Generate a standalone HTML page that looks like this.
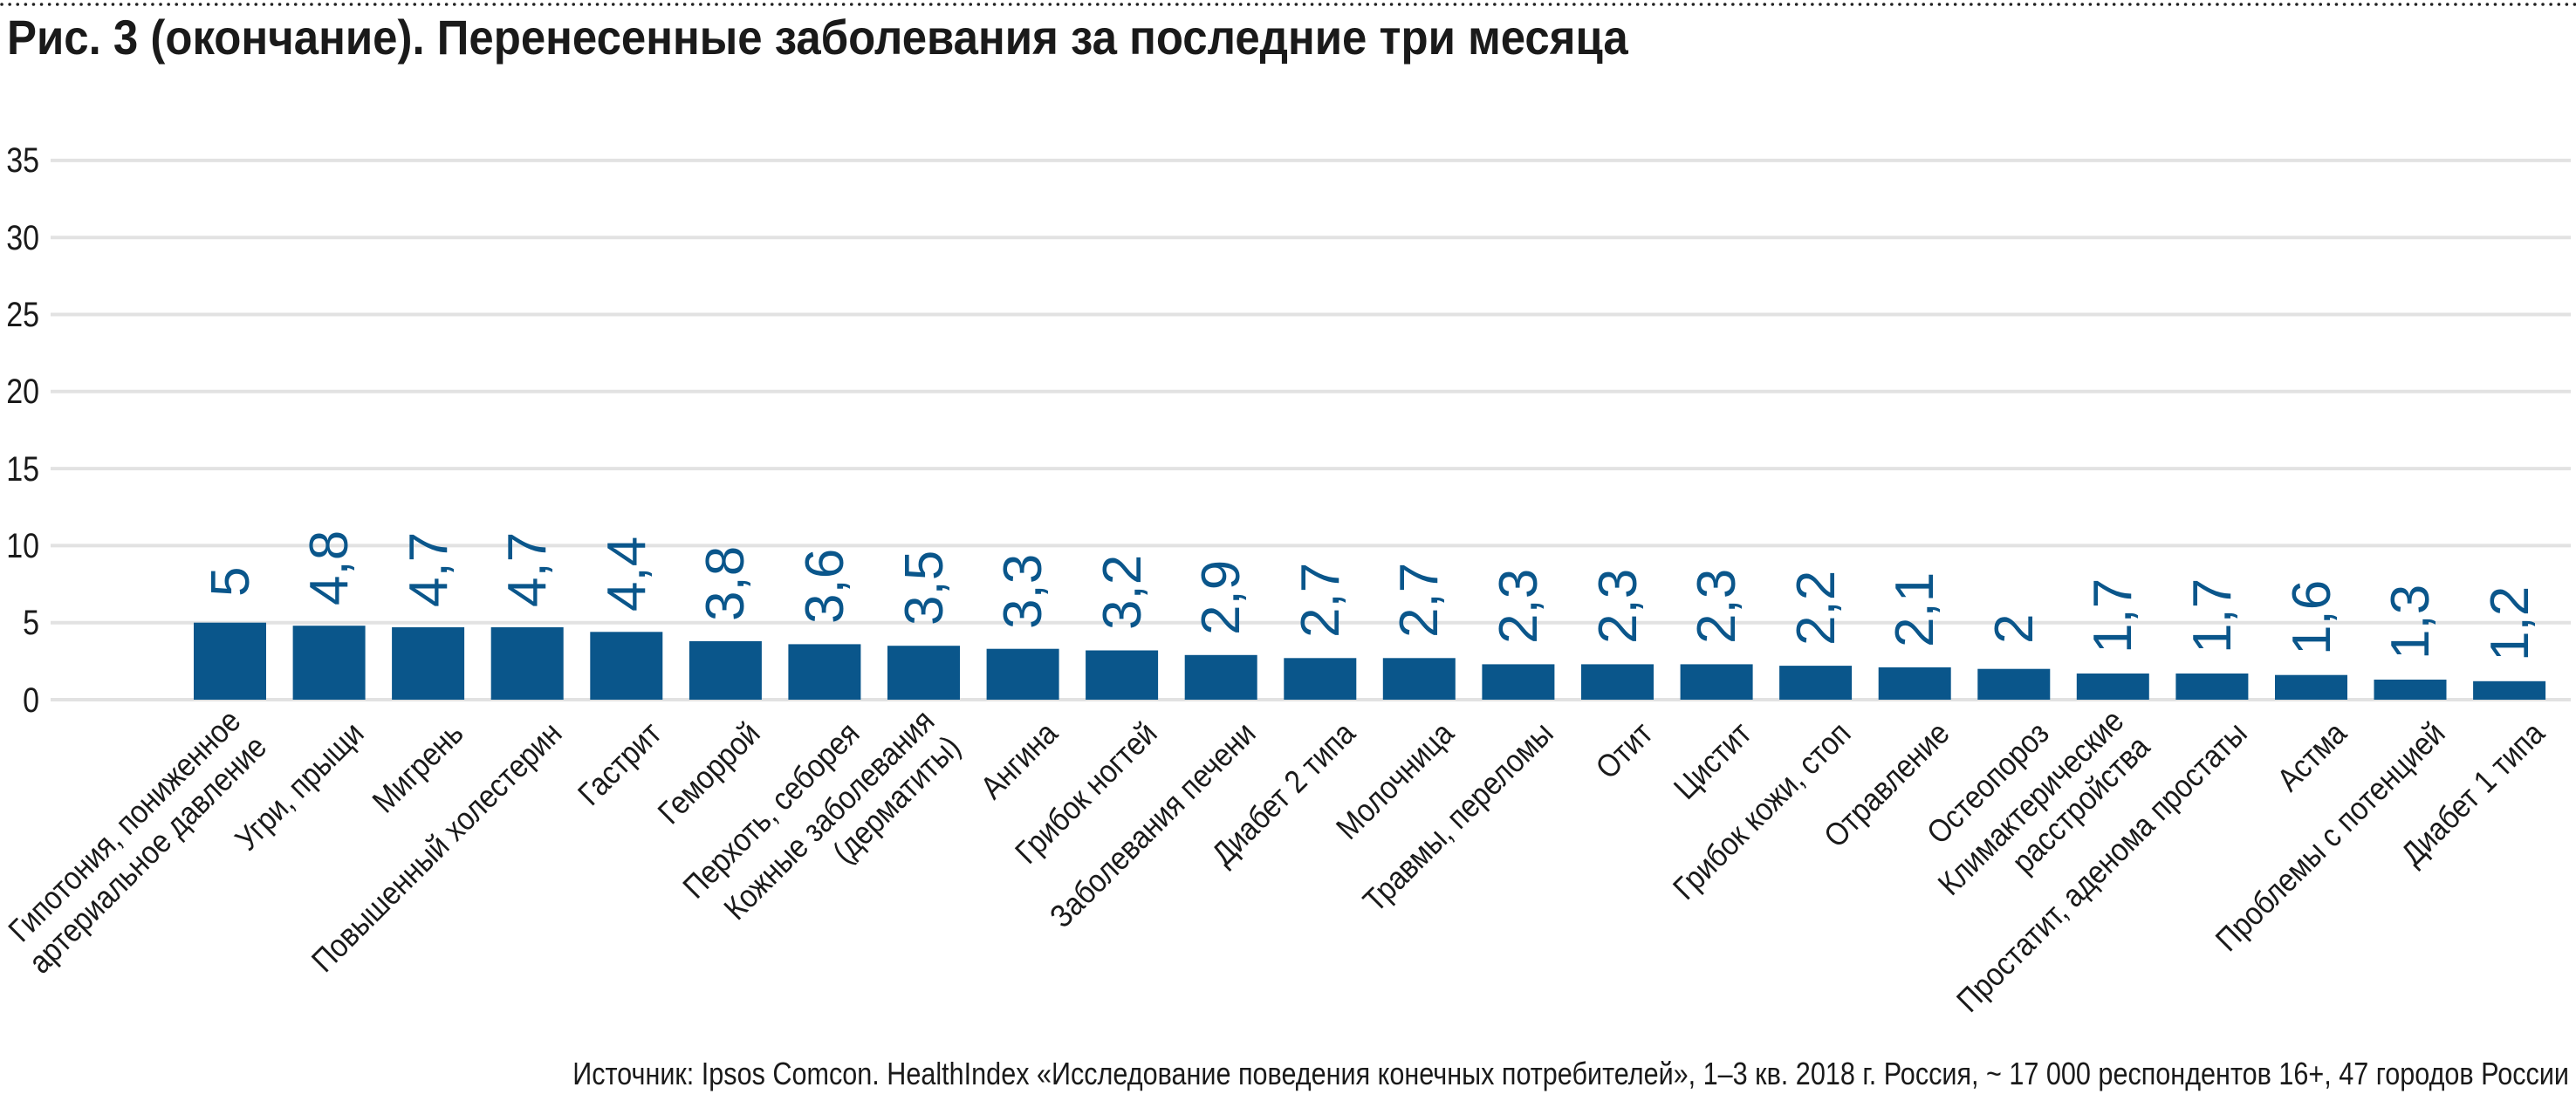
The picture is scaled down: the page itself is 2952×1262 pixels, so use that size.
<!DOCTYPE html>
<html><head><meta charset="utf-8"><style>
html,body{margin:0;padding:0;background:#fff;}
svg{display:block;}
text{font-family:"Liberation Sans",sans-serif;}
</style></head><body>
<svg width="2952" height="1262" viewBox="0 0 2952 1262" xmlns="http://www.w3.org/2000/svg">
<line x1="2" y1="5" x2="2952" y2="5" stroke="#222" stroke-width="3.5" stroke-linecap="round" stroke-dasharray="0.1 9"/>
<text transform="translate(8,62) scale(0.91,1)" font-size="56" font-weight="bold" fill="#1a1a1a">Рис. 3 (окончание). Перенесенные заболевания за последние три месяца</text>
<g stroke="#e2e2e2" stroke-width="4">
<line x1="58" y1="802" x2="2946" y2="802"/><line x1="58" y1="713.7" x2="2946" y2="713.7"/><line x1="58" y1="625.4" x2="2946" y2="625.4"/><line x1="58" y1="537.1" x2="2946" y2="537.1"/><line x1="58" y1="448.8" x2="2946" y2="448.8"/><line x1="58" y1="360.5" x2="2946" y2="360.5"/><line x1="58" y1="272.2" x2="2946" y2="272.2"/><line x1="58" y1="183.9" x2="2946" y2="183.9"/>
</g>
<g font-size="40" fill="#1a1a1a" text-anchor="end">
<text transform="translate(45,816) scale(0.85,1)">0</text>
<text transform="translate(45,727) scale(0.85,1)">5</text>
<text transform="translate(45,639) scale(0.85,1)">10</text>
<text transform="translate(45,551) scale(0.85,1)">15</text>
<text transform="translate(45,462) scale(0.85,1)">20</text>
<text transform="translate(45,374) scale(0.85,1)">25</text>
<text transform="translate(45,286) scale(0.85,1)">30</text>
<text transform="translate(45,197) scale(0.85,1)">35</text>
</g>
<g fill="#0a568b">
<rect x="222" y="713.7" width="83" height="88.3"/>
<rect x="335.6" y="717.2" width="83" height="84.8"/>
<rect x="449.1" y="719" width="83" height="83"/>
<rect x="562.7" y="719" width="83" height="83"/>
<rect x="676.3" y="724.3" width="83" height="77.7"/>
<rect x="789.9" y="734.9" width="83" height="67.1"/>
<rect x="903.4" y="738.4" width="83" height="63.6"/>
<rect x="1017" y="740.2" width="83" height="61.8"/>
<rect x="1130.6" y="743.7" width="83" height="58.3"/>
<rect x="1244.1" y="745.5" width="83" height="56.5"/>
<rect x="1357.7" y="750.8" width="83" height="51.2"/>
<rect x="1471.3" y="754.3" width="83" height="47.7"/>
<rect x="1584.8" y="754.3" width="83" height="47.7"/>
<rect x="1698.4" y="761.4" width="83" height="40.6"/>
<rect x="1812" y="761.4" width="83" height="40.6"/>
<rect x="1925.6" y="761.4" width="83" height="40.6"/>
<rect x="2039.1" y="763.1" width="83" height="38.9"/>
<rect x="2152.7" y="764.9" width="83" height="37.1"/>
<rect x="2266.3" y="766.7" width="83" height="35.3"/>
<rect x="2379.8" y="772" width="83" height="30"/>
<rect x="2493.4" y="772" width="83" height="30"/>
<rect x="2607" y="773.7" width="83" height="28.3"/>
<rect x="2720.5" y="779" width="83" height="23"/>
<rect x="2834.1" y="780.8" width="83" height="21.2"/>
</g>
<g font-size="62" fill="#0a568b">
<text transform="translate(285,684) rotate(-90)">5</text>
<text transform="translate(398,694) rotate(-90)">4,8</text>
<text transform="translate(512,696) rotate(-90)">4,7</text>
<text transform="translate(625,696) rotate(-90)">4,7</text>
<text transform="translate(739,701) rotate(-90)">4,4</text>
<text transform="translate(852,712) rotate(-90)">3,8</text>
<text transform="translate(966,715) rotate(-90)">3,6</text>
<text transform="translate(1080,717) rotate(-90)">3,5</text>
<text transform="translate(1193,721) rotate(-90)">3,3</text>
<text transform="translate(1307,722) rotate(-90)">3,2</text>
<text transform="translate(1420,728) rotate(-90)">2,9</text>
<text transform="translate(1534,731) rotate(-90)">2,7</text>
<text transform="translate(1647,731) rotate(-90)">2,7</text>
<text transform="translate(1761,738) rotate(-90)">2,3</text>
<text transform="translate(1875,738) rotate(-90)">2,3</text>
<text transform="translate(1988,738) rotate(-90)">2,3</text>
<text transform="translate(2102,740) rotate(-90)">2,2</text>
<text transform="translate(2215,742) rotate(-90)">2,1</text>
<text transform="translate(2329,738) rotate(-90)">2</text>
<text transform="translate(2442,749) rotate(-90)">1,7</text>
<text transform="translate(2556,749) rotate(-90)">1,7</text>
<text transform="translate(2670,751) rotate(-90)">1,6</text>
<text transform="translate(2783,756) rotate(-90)">1,3</text>
<text transform="translate(2897,758) rotate(-90)">1,2</text>
</g>
<g font-size="37" fill="#1a1a1a" text-anchor="end">
<text transform="translate(292,843) rotate(-45) scale(0.88,1)"><tspan x="0" y="-20">Гипотония, пониженное</tspan><tspan x="0" y="22">артериальное давление</tspan></text>
<text transform="translate(419,843) rotate(-45) scale(0.88,1)">Угри, прыщи</text>
<text transform="translate(533,843) rotate(-45) scale(0.88,1)">Мигрень</text>
<text transform="translate(646,843) rotate(-45) scale(0.88,1)">Повышенный холестерин</text>
<text transform="translate(760,843) rotate(-45) scale(0.88,1)">Гастрит</text>
<text transform="translate(873,843) rotate(-45) scale(0.88,1)">Геморрой</text>
<text transform="translate(987,843) rotate(-45) scale(0.88,1)">Перхоть, себорея</text>
<text transform="translate(1087,843) rotate(-45) scale(0.88,1)"><tspan x="0" y="-20">Кожные заболевания</tspan><tspan x="0" y="22">(дерматиты)</tspan></text>
<text transform="translate(1214,843) rotate(-45) scale(0.88,1)">Ангина</text>
<text transform="translate(1328,843) rotate(-45) scale(0.88,1)">Грибок ногтей</text>
<text transform="translate(1441,843) rotate(-45) scale(0.88,1)">Заболевания печени</text>
<text transform="translate(1555,843) rotate(-45) scale(0.88,1)">Диабет 2 типа</text>
<text transform="translate(1668,843) rotate(-45) scale(0.88,1)">Молочница</text>
<text transform="translate(1782,843) rotate(-45) scale(0.88,1)">Травмы, переломы</text>
<text transform="translate(1896,843) rotate(-45) scale(0.88,1)">Отит</text>
<text transform="translate(2009,843) rotate(-45) scale(0.88,1)">Цистит</text>
<text transform="translate(2123,843) rotate(-45) scale(0.88,1)">Грибок кожи, стоп</text>
<text transform="translate(2236,843) rotate(-45) scale(0.88,1)">Отравление</text>
<text transform="translate(2350,843) rotate(-45) scale(0.88,1)">Остеопороз</text>
<text transform="translate(2450,843) rotate(-45) scale(0.88,1)"><tspan x="0" y="-20">Климактерические</tspan><tspan x="0" y="22">расстройства</tspan></text>
<text transform="translate(2577,843) rotate(-45) scale(0.88,1)">Простатит, аденома простаты</text>
<text transform="translate(2691,843) rotate(-45) scale(0.88,1)">Астма</text>
<text transform="translate(2804,843) rotate(-45) scale(0.88,1)">Проблемы с потенцией</text>
<text transform="translate(2918,843) rotate(-45) scale(0.88,1)">Диабет 1 типа</text>
</g>
<text transform="translate(2944,1243) scale(0.85,1)" font-size="36" fill="#1a1a1a" text-anchor="end">Источник: Ipsos Comcon. HealthIndex «Исследование поведения конечных потребителей», 1–3 кв. 2018 г. Россия, ~ 17 000 респондентов 16+, 47 городов России</text>
</svg>
</body></html>
